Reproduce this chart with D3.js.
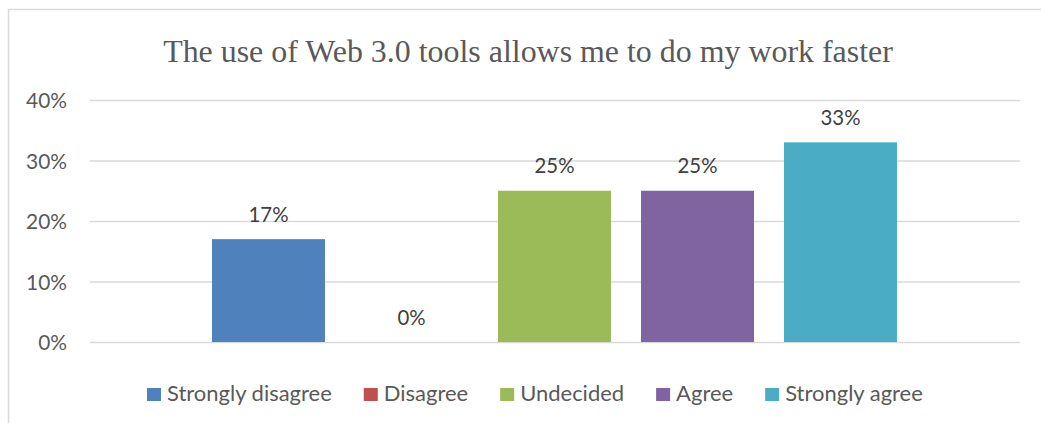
<!DOCTYPE html>
<html><head><meta charset="utf-8">
<script src="https://cdn.jsdelivr.net/npm/d3@7"></script>
<style>html,body{margin:0;padding:0;background:#fff;}</style>
</head><body>
<svg id="chart" width="1041" height="423"></svg>
<script>
const titleText = "The use of Web 3.0 tools allows me to do my work faster";
const seriesNames = ["Strongly disagree", "Disagree", "Undecided", "Agree", "Strongly agree"];
const seriesValues = [0.17, 0.00, 0.25, 0.25, 0.33];
const seriesColors = ["#4f81bd", "#c0504d", "#9bbb59", "#8064a2", "#4bacc6"];
const yTicks = [0, 0.1, 0.2, 0.3, 0.4];

const svg = d3.select("#chart");
const W = 1041, H = 423;
const SANS = "Lato, 'Open Sans', sans-serif";
const SERIF = "'Liberation Serif', 'Times New Roman', serif";

function textWidth(text, family, size) {
  const t = svg.append("text").attr("font-family", family).attr("font-size", size).text(text);
  const w = t.node().getComputedTextLength();
  t.remove();
  return w;
}
function fitSize(text, family, target) {
  return 100 * target / textWidth(text, family, 100);
}

// border
svg.append("rect").attr("x", 8.5).attr("y", 9.5).attr("width", W + 10).attr("height", H + 10)
  .attr("fill", "#fff").attr("stroke", "#d9d9d9").attr("stroke-width", 1.5);

const plot = {left: 90, right: 1020, top: 100, bottom: 342};
const y = d3.scaleLinear().domain([0, 0.4]).range([plot.bottom, plot.top]);
const x = d3.scaleBand().domain(seriesNames).range([197, 912])
  .paddingInner(30 / 143).paddingOuter(15 / 143);

// title
const titleSize = fitSize(titleText, SERIF, 730);
svg.append("text").attr("x", 528).attr("y", 62).attr("text-anchor", "middle")
  .attr("font-family", SERIF).attr("font-size", titleSize).attr("fill", "#595959").text(titleText);

// gridlines + y axis
const yAxis = d3.axisLeft(y).tickValues(yTicks).tickFormat(d3.format(".0%"))
  .tickSize(-(plot.right - plot.left)).tickPadding(23);
const axisSize = fitSize("40%", SANS, 41);
const gy = svg.append("g").attr("transform", `translate(${plot.left},0)`).call(yAxis);
gy.select(".domain").remove();
gy.selectAll(".tick line").attr("stroke", "#d9d9d9").attr("stroke-width", 1.5);
gy.selectAll(".tick text").attr("font-family", SANS).attr("font-size", axisSize)
  .attr("fill", "#595959").attr("dy", "0.36em");

// bars
svg.append("g").selectAll("rect").data(seriesNames).join("rect")
  .attr("x", d => x(d)).attr("width", x.bandwidth())
  .attr("y", (d, i) => y(seriesValues[i]))
  .attr("height", (d, i) => y(0) - y(seriesValues[i]))
  .attr("fill", (d, i) => seriesColors[i]);

// data labels
const labelSize = fitSize("17%", SANS, 40);
svg.append("g").selectAll("text").data(seriesNames).join("text")
  .attr("x", d => x(d) + x.bandwidth() / 2)
  .attr("y", (d, i) => y(seriesValues[i]) - 17.5)
  .attr("text-anchor", "middle").attr("font-family", SANS).attr("font-size", labelSize)
  .attr("fill", "#404040").text((d, i) => d3.format(".0%")(seriesValues[i]));

// legend
const totalText = d3.sum(seriesNames, n => textWidth(n, SANS, 100));
const legSize = 100 * 548 / totalText;
const leg = svg.append("g");
let cx = 147;
seriesNames.forEach((name, i) => {
  leg.append("rect").attr("x", cx).attr("y", 388).attr("width", 14).attr("height", 13)
    .attr("fill", seriesColors[i]);
  const t = leg.append("text").attr("x", cx + 20).attr("y", 401)
    .attr("font-family", SANS).attr("font-size", legSize).attr("fill", "#595959").text(name);
  cx += 20 + t.node().getComputedTextLength() + 32;
});
</script>
</body></html>
